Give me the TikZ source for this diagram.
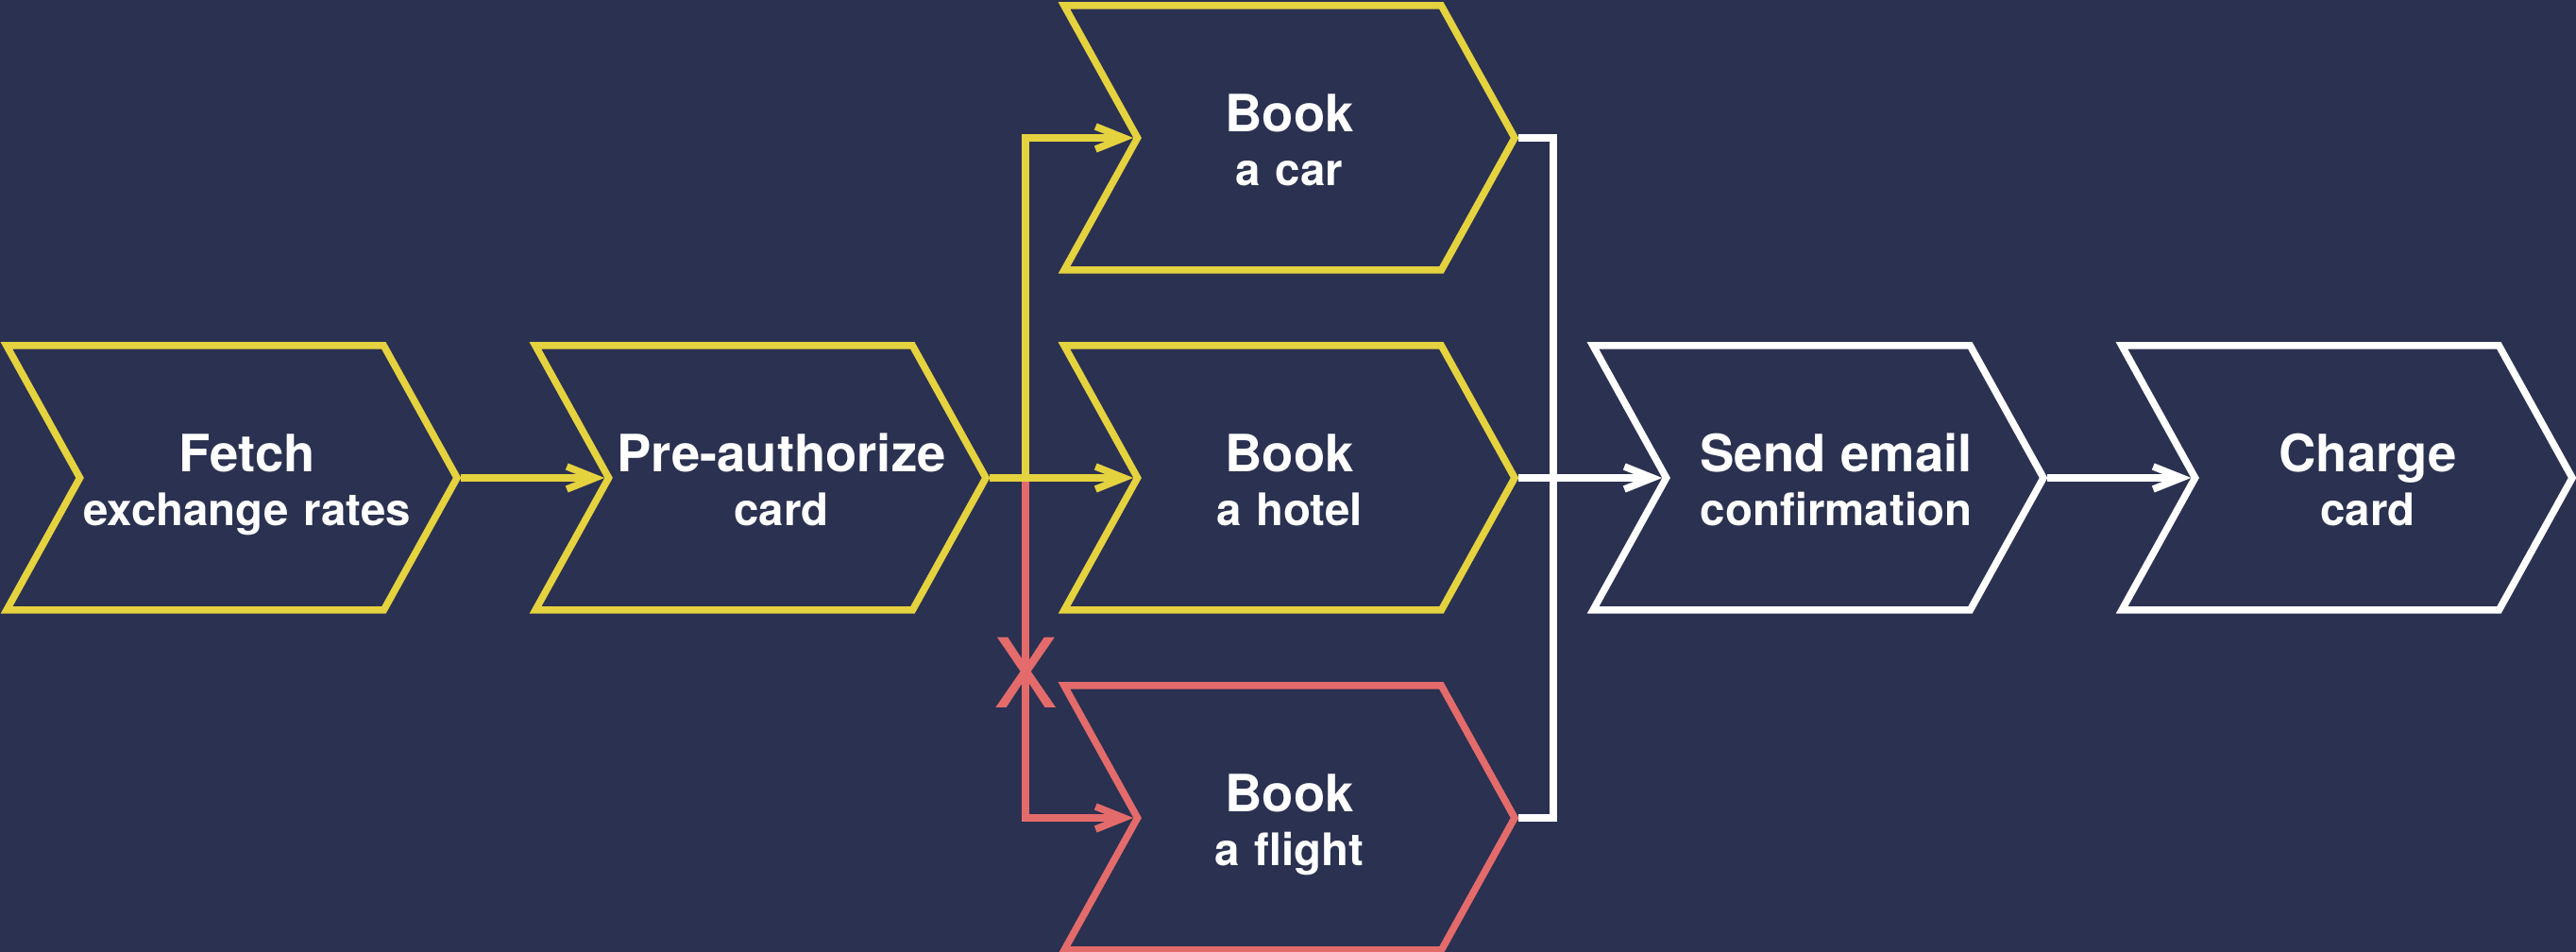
\documentclass[tikz,border=0pt]{standalone}
\usepackage{fontspec}
\setmainfont{TeX Gyre Heros}
\usetikzlibrary{positioning, shapes.symbols, arrows.meta}

\definecolor{bgnavy}{HTML}{2B3150}
\definecolor{stepyellow}{HTML}{E5D23F}
\definecolor{stepred}{HTML}{E46B6B}

\tikzset{
  chevron/.style={signal, signal from=west, signal to=east, signal pointer angle=122,
    draw=#1, line width=0.075cm, minimum width=4.77cm, minimum height=2.8cm, inner sep=0pt,
    text=white, text width=2.4cm, align=center, font=\bfseries\fontsize{13.5}{16}\selectfont,
    text height=0.4cm, text depth=0.52cm},
  chevron/.default=stepyellow,
  flow/.style={line width=0.075cm, -{Straight Barb[length=0.3cm, width=0.24cm]}},
  link/.style={line width=0.075cm},
}
% two centred lines, optionally nudged to the right
\newcommand{\steptitle}[3][0cm]{%
  \makebox[0pt]{\hspace*{#1}{\fontsize{15.5}{16}\selectfont #2}}\\
  \makebox[0pt]{\hspace*{#1}#3}}

\begin{document}
\begin{tikzpicture}
  \fill[bgnavy] (0,0) rectangle (27.28,10.08);
  \useasboundingbox (0,0) rectangle (27.28,10.08);

  \node[chevron] (fetch) at (2.455, 5.02) {\steptitle[0.32cm]{Fetch}{exchange rates}};
  \node[chevron] (preauth) at (8.055, 5.02) {\steptitle[0.44cm]{Pre-authorize}{card}};
  \node[chevron] (car) at (13.655, 8.62) {\steptitle{Book}{a car}};
  \node[chevron] (hotel) at (13.655, 5.02) {\steptitle{Book}{a hotel}};
  \node[chevron=stepred] (flight) at (13.655, 1.42) {\steptitle{Book}{a flight}};
  \node[chevron=white] (email) at (19.255, 5.02) {\steptitle[0.38cm]{Send email}{confirmation}};
  \node[chevron=white] (charge) at (24.855, 5.02) {\steptitle[0.44cm]{Charge}{card}};

  \coordinate (fork) at (10.86, 5.02);
  \coordinate (join) at (16.45, 5.02);

  % failed branch
  \draw[flow, stepred] (fork) |- (flight.west);
  \node[text=stepred, font=\fontsize{29}{30}\selectfont, inner sep=0pt] (cross) at (10.86, 2.96) {X};

  \draw[flow, stepyellow] (fetch.east) -- (preauth.west);
  \draw[flow, stepyellow] (preauth.east) -- (hotel.west);
  \draw[flow, stepyellow] (fork) |- (car.west);

  \draw[link, white] (car.east) -| (join);
  \draw[link, white] (flight.east) -| (join);
  \draw[flow, white] (hotel.east) -- (email.west);
  \draw[flow, white] (email.east) -- (charge.west);
\end{tikzpicture}
\end{document}
